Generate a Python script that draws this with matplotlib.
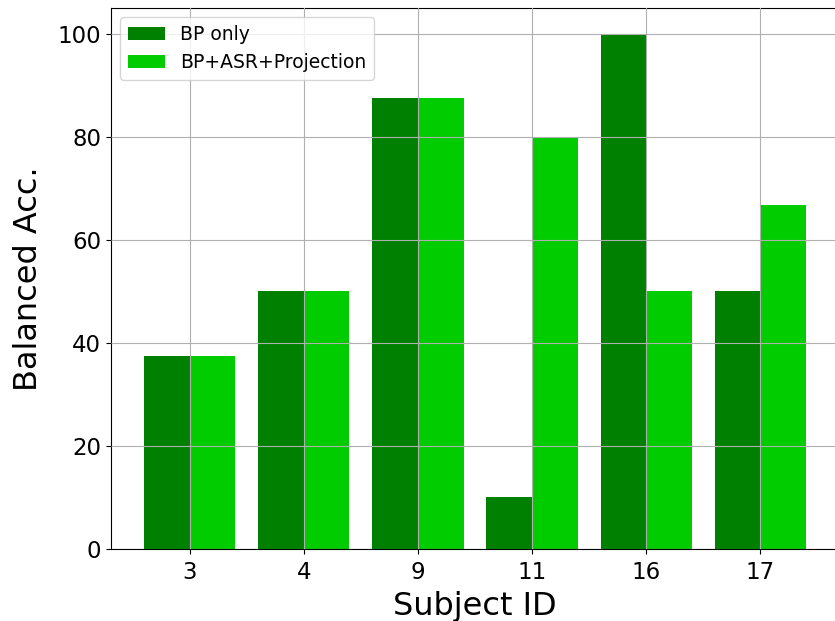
import numpy as np
import matplotlib.pyplot as plt

subjects = ['3', '4', '9', '11', '16', '17']
bp_only = [37.5, 50.0, 87.5, 10.0, 100.0, 50.0]
bp_asr_proj = [37.5, 50.0, 87.5, 80.0, 50.0, 66.7]

fig = plt.figure(figsize=(8.35, 6.21), dpi=100)
ax = fig.add_axes([111 / 835, 72 / 621, 728 / 835, 541 / 621])

x = np.arange(len(subjects))
w = 0.4
ax.bar(x - w / 2, bp_only, width=w, color='green', label='BP only')
ax.bar(x + w / 2, bp_asr_proj, width=w, color='#00cc00', label='BP+ASR+Projection')

ax.set_xticks(x)
ax.set_xticklabels(subjects)
ax.set_xlim(-0.69, 5.69)
ax.tick_params(labelsize=16.5)
ax.tick_params(axis='x', pad=5)
ax.set_xlabel('Subject ID', fontsize=23, labelpad=5)
ax.set_ylabel('Balanced Acc.', fontsize=23, labelpad=10)
ax.spines['right'].set_visible(False)
ax.set_axisbelow(False)
ax.grid(True)
ax.legend(loc='upper left', fontsize=13.5)

fig.savefig('out.png', dpi=100)
